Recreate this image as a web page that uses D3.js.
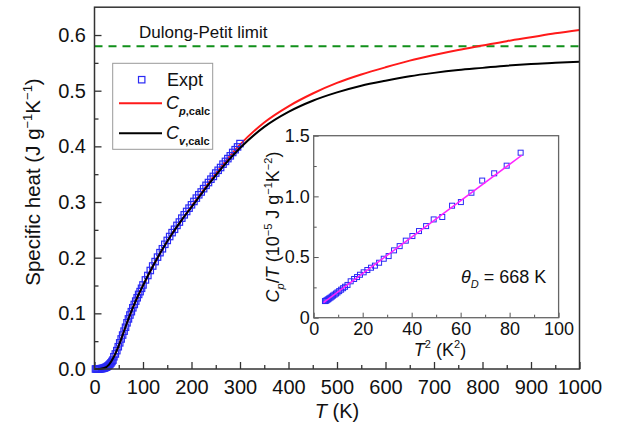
<!DOCTYPE html>
<html lang="en">
<head>
  <meta charset="UTF-8">
  <title>Specific heat</title>
  <style>
    body { margin: 0; background: #fff; }
    text { font-family: "Liberation Sans", Arial, sans-serif; fill: #111; }
  </style>
</head>
<body>

  <svg id="svg" width="618" height="428"></svg>

  <script src="https://d3js.org/d3.v7.min.js"></script>
  <script>

    // calculated curves (J g^-1 K^-1)
    const calcT  = [0, 10, 20, 30, 40, 50, 60, 70, 80, 90, 100, 120, 140, 160, 180, 200, 250, 300, 350, 400, 450, 500, 550, 600, 650, 700, 750, 800, 850, 900, 950, 1000]
    const cvCalc = [0, 0.0002, 0.0018, 0.008, 0.022, 0.042, 0.066, 0.090, 0.112, 0.132, 0.150, 0.184, 0.215, 0.243, 0.268, 0.291, 0.348, 0.397, 0.435, 0.462, 0.482, 0.497, 0.509, 0.518, 0.526, 0.532, 0.537, 0.541, 0.545, 0.548, 0.550, 0.552]
    const cpCalc = [0, 0.0002, 0.0018, 0.008, 0.022, 0.042, 0.066, 0.090, 0.112, 0.132, 0.150, 0.184, 0.215, 0.243, 0.268, 0.292, 0.351, 0.403, 0.443, 0.472, 0.495, 0.514, 0.529, 0.542, 0.554, 0.564, 0.573, 0.581, 0.589, 0.596, 0.603, 0.609]

    // experimental points
    const exptT = [2, 4, 6, 8, 10, 12, 14, 16, 18, 20, 22, 24, 26, 28, 30, 32, 34, 36, 38,
      40, 43, 46, 49, 52, 55, 58, 61, 64, 67, 70, 73, 76, 79, 82, 85, 88, 91, 94, 97,
      100, 105, 110, 115, 120, 125, 130, 135, 140, 145, 150, 155, 160, 165, 170, 175, 180, 185, 190, 195,
      200, 205, 210, 215, 220, 225, 230, 235, 240, 245, 250, 255, 260, 265, 270, 275, 280, 285, 290, 295, 300]
    const exptC = [0, 0, 0.0001, 0.0001, 0.0002, 0.0004, 0.0006, 0.0009, 0.0013, 0.0018, 0.0025, 0.0033, 0.0043, 0.0056, 0.0072, 0.009, 0.011, 0.0135, 0.016,
      0.022, 0.027, 0.033, 0.040, 0.047, 0.054, 0.061, 0.068, 0.075, 0.083, 0.090, 0.097, 0.103, 0.110, 0.116, 0.122, 0.128, 0.134, 0.139, 0.145,
      0.151, 0.160, 0.168, 0.177, 0.185, 0.193, 0.201, 0.209, 0.216, 0.224, 0.231, 0.238, 0.245, 0.251, 0.258, 0.264, 0.271, 0.277, 0.283, 0.289,
      0.295, 0.301, 0.307, 0.313, 0.318, 0.324, 0.330, 0.335, 0.341, 0.346, 0.352, 0.357, 0.362, 0.368, 0.373, 0.378, 0.383, 0.389, 0.394, 0.399, 0.405]

    const dulongPetit = 0.58

    // inset: C_p/T vs T^2
    const insetT2 = [4.6, 4.9, 5.2, 5.6, 6.0, 6.4, 6.9, 7.4, 7.9, 8.5, 9.1, 9.7, 10.4, 11.2, 12.0, 12.8, 13.8, 15.1, 16.5, 17.7, 18.9, 20.4, 21.9,
      23.4, 25.0, 26.7, 28.6, 30.6, 32.8, 35.1, 37.6, 40.3, 43.0, 45.9, 49.0, 52.5, 56.5, 60.1, 64.4, 68.8, 73.7, 78.8, 84.5]
    const insetCT = [0.137, 0.139, 0.142, 0.148, 0.153, 0.160, 0.166, 0.174, 0.182, 0.190, 0.199, 0.208, 0.219, 0.231, 0.243, 0.255, 0.270, 0.300, 0.319, 0.335, 0.354, 0.374, 0.393,
      0.412, 0.429, 0.453, 0.486, 0.508, 0.555, 0.590, 0.635, 0.673, 0.714, 0.755, 0.810, 0.830, 0.923, 0.953, 1.030, 1.130, 1.190, 1.253, 1.360]
    const fitT2 = [4, 85]
    const fitCT = [0.124, 1.339]

    const xTicks = [0, 100, 200, 300, 400, 500, 600, 700, 800, 900, 1000]
    const yTicks = [0, 0.1, 0.2, 0.3, 0.4, 0.5, 0.6]
    const insetXTicks = [0, 20, 40, 60, 80, 100]
    const insetYTicks = [0, 0.5, 1.0, 1.5]

    const svg = d3.select('#svg')

    // main scales
    const x = d3.scaleLinear().domain([0, 1000]).range([94.5, 579.5])
    const y = d3.scaleLinear().domain([0, 0.65]).range([369, 7.2])

    const fontSize = 20

    // minor ticks
    svg.append('g')
      .attr('transform', 'translate(0,369)')
      .call(d3.axisBottom(x).tickValues(d3.range(50, 1000, 100)).tickSize(-4).tickFormat(''))
    svg.append('g')
      .attr('transform', 'translate(94.5,0)')
      .call(d3.axisLeft(y).tickValues([0.05, 0.15, 0.25, 0.35, 0.45, 0.55]).tickSize(-4).tickFormat(''))

    svg.append('g')
      .attr('transform', 'translate(0,369)')
      .call(d3.axisBottom(x).tickValues(xTicks).tickSize(-7).tickPadding(11).tickFormat(d3.format('d')))
    svg.append('g')
      .attr('transform', 'translate(94.5,0)')
      .call(d3.axisLeft(y).tickValues(yTicks).tickSize(-7).tickPadding(8.5).tickFormat(d3.format('.1f')))

    svg.selectAll('.domain').remove()
    svg.selectAll('.tick line').attr('stroke', '#333').attr('stroke-width', 1.3)
    svg.selectAll('.tick text').style('font-size', fontSize + 'px').attr('fill', '#111')

    // dulong-petit line
    svg.append('line')
      .attr('x1', x(0)).attr('x2', x(1000))
      .attr('y1', y(dulongPetit)).attr('y2', y(dulongPetit))
      .attr('stroke', '#11901a').attr('stroke-width', 2)
      .attr('stroke-dasharray', '8,6')

    svg.append('text')
      .attr('x', 139).attr('y', 38)
      .style('font-size', '17px')
      .text('Dulong-Petit limit')

    const line = d3.line().curve(d3.curveMonotoneX)

    // red first, then points, then black on top
    svg.append('path')
      .attr('d', line(calcT.map((t, i) => [x(t), y(cpCalc[i])])))
      .attr('fill', 'none').attr('stroke', '#ff1a1a').attr('stroke-width', 2)

    svg.append('g').selectAll('rect')
      .data(exptT)
      .enter()
      .append('rect')
      .attr('x', (d, i) => x(d) - 3.2)
      .attr('y', (d, i) => y(exptC[i]) - 3.2)
      .attr('width', 6.4).attr('height', 6.4)
      .attr('fill', 'none')
      .attr('stroke', '#2a2af5')
      .attr('stroke-width', 1.2)

    svg.append('path')
      .attr('d', line(calcT.map((t, i) => [x(t), y(cvCalc[i])])))
      .attr('fill', 'none').attr('stroke', '#000').attr('stroke-width', 2)

    // frame
    svg.append('rect')
      .attr('x', 94.5).attr('y', 7.2)
      .attr('width', 485).attr('height', 361.8)
      .attr('fill', 'none').attr('stroke', '#333').attr('stroke-width', 1.5)

    // axis titles
    svg.append('text')
      .attr('x', 337).attr('y', 418)
      .attr('text-anchor', 'middle')
      .style('font-size', fontSize + 'px')
      .html('<tspan font-style="italic">T</tspan> (K)')

    svg.append('text')
      .attr('transform', 'translate(40,182) rotate(-90)')
      .attr('text-anchor', 'middle')
      .style('font-size', '20.5px')
      .html('Specific heat (J g<tspan font-size="13" dy="-8">−1</tspan><tspan dy="8">K</tspan><tspan font-size="13" dy="-8">−1</tspan><tspan dy="8">)</tspan>')

    // legend
    const lg = svg.append('g')
    lg.append('rect')
      .attr('x', 112.7).attr('y', 63.3).attr('width', 100).attr('height', 86)
      .attr('fill', '#fff').attr('stroke', '#999').attr('stroke-width', 1)
    lg.append('rect')
      .attr('x', 138.5).attr('y', 76.5).attr('width', 6.4).attr('height', 6.4)
      .attr('fill', 'none').attr('stroke', '#2a2af5').attr('stroke-width', 1.2)
    lg.append('text').attr('x', 167).attr('y', 86).style('font-size', '18px').text('Expt')
    lg.append('line').attr('x1', 119).attr('x2', 162).attr('y1', 103.3).attr('y2', 103.3)
      .attr('stroke', '#ff1a1a').attr('stroke-width', 2)
    lg.append('text').attr('x', 166).attr('y', 109).style('font-size', '18px')
      .html('<tspan font-style="italic">C</tspan><tspan font-size="11" font-weight="bold" dy="6"><tspan font-style="italic">p</tspan>,calc</tspan>')
    lg.append('line').attr('x1', 119).attr('x2', 162).attr('y1', 133.3).attr('y2', 133.3)
      .attr('stroke', '#000').attr('stroke-width', 2)
    lg.append('text').attr('x', 166).attr('y', 139).style('font-size', '18px')
      .html('<tspan font-style="italic">C</tspan><tspan font-size="11" font-weight="bold" dy="6"><tspan font-style="italic">v</tspan>,calc</tspan>')

    // inset
    const ix = d3.scaleLinear().domain([0, 100]).range([313.7, 558.6])
    const iy = d3.scaleLinear().domain([0, 1.5]).range([317.7, 135.7])
    const inset = svg.append('g')

    inset.append('rect')
      .attr('x', 313.7).attr('y', 135.7).attr('width', 244.9).attr('height', 182)
      .attr('fill', '#fff')

    inset.append('g')
      .attr('transform', 'translate(0,317.7)')
      .call(d3.axisBottom(ix).tickValues([10, 30, 50, 70, 90]).tickSize(-3).tickFormat(''))
    inset.append('g')
      .attr('transform', 'translate(313.7,0)')
      .call(d3.axisLeft(iy).tickValues([0.25, 0.75, 1.25]).tickSize(-3).tickFormat(''))
    inset.append('g')
      .attr('transform', 'translate(0,317.7)')
      .call(d3.axisBottom(ix).tickValues(insetXTicks).tickSize(-5).tickPadding(5))
    inset.append('g')
      .attr('transform', 'translate(313.7,0)')
      .call(d3.axisLeft(iy).tickValues(insetYTicks).tickSize(-5).tickPadding(4)
        .tickFormat(d => d === 0 ? '0' : d3.format('.1f')(d)))

    inset.selectAll('.domain').remove()
    inset.selectAll('.tick line').attr('stroke', '#555').attr('stroke-width', 1)
    inset.selectAll('.tick text').style('font-size', '18px').attr('fill', '#111')

    inset.append('g').selectAll('rect')
      .data(insetT2)
      .enter()
      .append('rect')
      .attr('x', d => ix(d) - 2.5)
      .attr('y', (d, i) => iy(insetCT[i]) - 2.5)
      .attr('width', 5).attr('height', 5)
      .attr('fill', 'none')
      .attr('stroke', '#2a2af5')
      .attr('stroke-width', 1)

    inset.append('path')
      .attr('d', d3.line()(fitT2.map((t, i) => [ix(t), iy(fitCT[i])])))
      .attr('stroke', '#ff22ff').attr('stroke-width', 1.5).attr('fill', 'none')

    inset.append('rect')
      .attr('x', 313.7).attr('y', 135.7).attr('width', 244.9).attr('height', 182)
      .attr('fill', 'none').attr('stroke', '#666').attr('stroke-width', 1.3)

    inset.append('text')
      .attr('x', 461).attr('y', 283)
      .style('font-size', '18px')
      .html('<tspan font-style="italic">θ</tspan><tspan font-style="italic" font-size="11" dy="5">D</tspan><tspan dy="-5"> = 668 K</tspan>')

    inset.append('text')
      .attr('x', 440).attr('y', 356)
      .attr('text-anchor', 'middle')
      .style('font-size', '18px')
      .html('<tspan font-style="italic">T</tspan><tspan font-size="11" dy="-8">2</tspan><tspan dy="8"> (K</tspan><tspan font-size="11" dy="-8">2</tspan><tspan dy="8">)</tspan>')

    inset.append('text')
      .attr('transform', 'translate(279,227) rotate(-90)')
      .attr('text-anchor', 'middle')
      .style('font-size', '18px')
      .html('<tspan font-style="italic">C</tspan><tspan font-style="italic" font-size="11" dy="5">p</tspan><tspan dy="-5">/</tspan><tspan font-style="italic">T</tspan> (10<tspan font-size="11" dy="-7">−5</tspan><tspan dy="7"> J g</tspan><tspan font-size="11" dy="-7">−1</tspan><tspan dy="7">K</tspan><tspan font-size="11" dy="-7">−2</tspan><tspan dy="7">)</tspan>')

  </script>
</body>
</html>
